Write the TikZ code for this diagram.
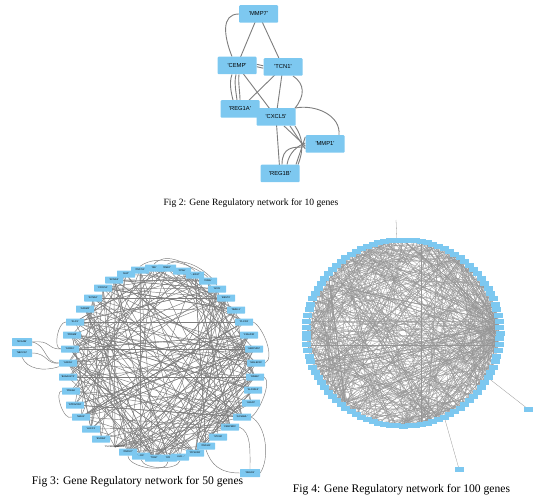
\documentclass[tikz,border=0pt]{standalone}
\usepackage{fontspec}
\setmainfont{Liberation Serif}
\newfontfamily\nodefont{Liberation Sans}
\pgfdeclarelayer{bg}
\pgfsetlayers{bg,main}
\definecolor{nodeblue}{RGB}{125,200,240}
\definecolor{edgegray}{RGB}{125,125,125}
\definecolor{edgelight}{RGB}{150,150,150}
\begin{document}
\begin{tikzpicture}[x=1pt,y=-1pt,
  gA/.style={rectangle,fill=nodeblue,rounded corners=1pt,minimum width=39pt,minimum height=17.5pt,inner sep=0pt,font=\nodefont\fontsize{5.8}{6}\selectfont},
  gB/.style={rectangle,fill=nodeblue,rounded corners=0.5pt,minimum width=18pt,minimum height=7pt,inner sep=0pt,font=\nodefont\fontsize{2.4}{2.6}\selectfont},
  gC/.style={rectangle,fill=nodeblue,minimum width=9pt,minimum height=5pt,inner sep=0pt},
  eA/.style={draw=edgegray,line width=0.9pt},
  eB/.style={draw=edgegray,line width=0.45pt},
  eC/.style={draw=edgelight,line width=0.3pt},
  captext/.style={inner sep=0pt,font=\fontsize{#1}{#1}\selectfont}
]
\useasboundingbox (0,0) rectangle (560,500);

% ---------------- Fig 2 ----------------
\node[gA] (mmp7) at (258.5,14) {'MMP7'};
\node[gA] (cemp) at (237,65.5) {'CEMP'};
\node[gA] (tcn1) at (283,67) {'TCN1'};
\node[gA] (reg1a) at (240,109) {'REG1A'};
\node[gA] (cxcl5) at (276,117) {'CXCL5'};
\node[gA] (mmp1) at (325,144) {'MMP1'};
\node[gA] (reg1b) at (280,173.5) {'REG1B'};
\node[captext=9.6] (cap2) at (251,203) {Fig 2: Gene Regulatory network for 10 genes};

\begin{pgfonlayer}{bg}
\draw[eA] (mmp7.center) -- (cemp.center);
\draw[eA] (mmp7.west) .. controls +(-18,0) and +(-8,-20) .. ([xshift=-5pt]cemp.north);
\draw[eA] (mmp7.center) -- (tcn1.center);
\draw[eA] ([yshift=-1.2pt]cemp.east) -- ([yshift=-1.2pt]tcn1.west);
\draw[eA] ([yshift=1.2pt]cemp.east) -- ([yshift=1.2pt]tcn1.west);
\draw[eA] ([xshift=-5pt]cemp.south) .. controls +(-3,8) and +(-2,-8) .. ([xshift=-7pt]reg1a.north);
\draw[eA] ([xshift=-1pt]cemp.south) .. controls +(-2,8) and +(-1,-8) .. ([xshift=-3pt]reg1a.north);
\draw[eA] ([xshift=2pt]cemp.south) .. controls +(-1,8) and +(0,-8) .. ([xshift=0pt]reg1a.north);
\draw[eA] (cemp.center) -- (cxcl5.center);
\draw[eA] (tcn1.center) -- (reg1a.center);
\draw[eA] (tcn1.center) -- (cxcl5.center);
\draw[eA] ([xshift=10pt]tcn1.south) .. controls +(12,8) and +(10,-12) .. ([xshift=19pt]cxcl5.north);
\draw[eA] ([xshift=19pt]cxcl5.north) .. controls +(20,-4) and +(2,-20) .. ([xshift=14pt]mmp1.north);
\draw[eA] ([xshift=14pt]cxcl5.south) -- ([yshift=-5pt]mmp1.west);
\draw[eA] ([xshift=8pt]cxcl5.south) -- ([yshift=-2pt]mmp1.west);
\draw[eA] (cxcl5.center) -- (reg1b.center);
\draw[eA] ([xshift=19pt]cxcl5.south) .. controls +(8,12) and +(6,-15) .. ([xshift=18pt]reg1b.north);
\draw[eA] ([xshift=2pt]reg1b.north) .. controls +(0,-18) and +(-12,0) .. ([yshift=-3pt]mmp1.west);
\draw[eA] ([xshift=7pt]reg1b.north) .. controls +(2,-12) and +(-8,3) .. ([yshift=1pt]mmp1.west);
\draw[eA] ([yshift=7pt]mmp1.west) -- ([xshift=16pt]reg1b.north);
\end{pgfonlayer}

% ---------------- Fig 3 ----------------
\foreach \i/\x/\y/\t in {
 1/154/268/NW, 2/167/268/RMEY, 3/182/271/CPA6, 4/195/275/\ldots BD17, 5/208/281/COBL,
 6/217/289/SCIN, 7/226/298/BEST4, 8/236/310/NMEL1, 9/244/322/PLCD3, 10/249/335/C15orf48,
 11/254/349/HERPUD2, 12/256/363/SIGLEC11, 13/255/377/RAB42, 14/253/390/SLC2A13, 15/251/403/LEAP2,
 16/242/417/GCSAML, 17/230/427/CENPBD1, 18/218/437/STK38, 19/206/446/ZNF441, 20/195/453/PIP4K2B,
 21/180/457/KLHD\ldots, 22/168/458/DN, 23/154/458/TRAP, 24/141/456/\ldots DC, 25/128/452/ZNF107,
 27/101/439/ESRRA, 28/91/429/LACC1, 29/81/417/MALN, 30/75/405/ATP6V0D2,
 31/71/391/PDE6A, 32/68/377/B4GALNT2, 33/68/363/IL11RA, 34/70/349/SNX13, 35/72/335/PRDM8,
 36/75/322/KLC3, 37/85/309/CADM2, 38/93/298/KCND4, 39/103/288/CRYZL1, 40/114/280/KCNG3,
 41/126/274/GAP, 42/140/270/ZNF761}
 {\node[gB] (c\i) at (\x,\y) {'\t'};}
\node[gB,fill=none] (c26) at (115,447) {'PLCB001\slash SCUBE'};
\node[gB,minimum width=20pt,minimum height=8pt] (o1) at (22,342) {'NCAOB'};
\node[gB,minimum width=20pt,minimum height=8pt] (o2) at (22,353) {'NBCC12'};
\node[gB,minimum width=20pt,minimum height=8pt] (o3) at (250,473) {'NEGR1'};
\node[captext=11.6] (cap3) at (137.5,482) {Fig 3: Gene Regulatory network for 50 genes};

\begin{pgfonlayer}{bg}
\pgfmathsetseed{7}
\foreach \k in {1,...,170}{
  \pgfmathtruncatemacro\a{random(1,42)}
  \pgfmathtruncatemacro\b{mod(\a+random(6,36)-1,42)+1}
  \draw[eB] (c\a.center) -- (c\b.center);
}
\foreach \h in {10,11,16,23,17}{
  \foreach \k in {1,...,8}{
    \pgfmathtruncatemacro\b{mod(\h+random(8,34)-1,42)+1}
    \draw[eB] (c\h.center) -- (c\b.center);
  }
}
\draw[eB] (o1.east) .. controls +(15,3) and +(-15,0) .. (c33.west);
\draw[eB] (o2.east) .. controls +(15,0) and +(-12,2) .. (c33.west);
\draw[eB] (o2.south) .. controls +(5,12) and +(-15,5) .. (c33.south west);
\draw[eB] (o1.east) .. controls +(20,-2) and +(-15,0) .. (c34.west);
\draw[eB] (o3.north) .. controls +(0,-20) and +(12,5) .. (c17.east);
\draw[eB] (o3.east) .. controls +(10,-15) and +(15,8) .. (c16.east);
\draw[eB] (o3.west) .. controls +(-20,0) and +(5,15) .. (c19.south);
\draw[eB] (c1.north) .. controls +(10,-12) and +(-10,-10) .. (c4.north);
\draw[eB] (c42.north) .. controls +(20,-15) and +(-10,-10) .. (c5.north);
\draw[eB] (c2.north) .. controls +(20,-10) and +(-5,-10) .. (c6.north);
\draw[eB] (c9.east) .. controls +(10,5) and +(10,-5) .. (c12.east);
\draw[eB] (c13.east) .. controls +(8,5) and +(8,-5) .. (c16.east);
\draw[eB] (c29.west) .. controls +(-8,5) and +(-8,0) .. (c31.west);
\draw[eB] (c36.west) .. controls +(-8,0) and +(-8,0) .. (c34.west);
\draw[eB] (c21.south) .. controls +(-3,10) and +(3,10) .. (c24.south);
\draw[eB] (c25.south) .. controls +(0,12) and +(0,12) .. (c22.south);
\end{pgfonlayer}

% ---------------- Fig 4 ----------------
\foreach \i in {1,...,100}{
  \pgfmathsetmacro\ang{90-3.6*\i}
  \node[gC] (d\i) at ({403+97*cos(\ang)},{333-93*sin(\ang)}) {};
}
\node[gC] (f1) at (528,409) {};
\node[gC] (f2) at (459,469) {};
\coordinate (top4) at (396,220);
\node[captext=11.6] (cap4) at (401.5,490) {Fig 4: Gene Regulatory network for 100 genes};

\begin{pgfonlayer}{bg}
\pgfmathsetseed{31}
\foreach \k in {1,...,380}{
  \pgfmathtruncatemacro\a{random(1,100)}
  \pgfmathtruncatemacro\o{random(10,90)}
  \pgfmathtruncatemacro\o{\o==50 ? 47 : \o}
  \pgfmathtruncatemacro\b{mod(\a+\o-1,100)+1}
  \draw[eC] (d\a.center) -- (d\b.center);
}
\foreach \h in {23,24,26,27,10,60}{
  \foreach \k in {1,...,16}{
    \pgfmathtruncatemacro\o{random(15,85)}
    \pgfmathtruncatemacro\o{\o==50 ? 46 : \o}
    \pgfmathtruncatemacro\b{mod(\h+\o-1,100)+1}
    \draw[eC] (d\h.center) -- (d\b.center);
  }
}
\draw[eC] (d99.center) -- (top4);
\draw[eC] (d33.center) -- (f1.center);
\draw[eC] (d43.center) -- (f2.center);
\end{pgfonlayer}
\end{tikzpicture}
\end{document}
